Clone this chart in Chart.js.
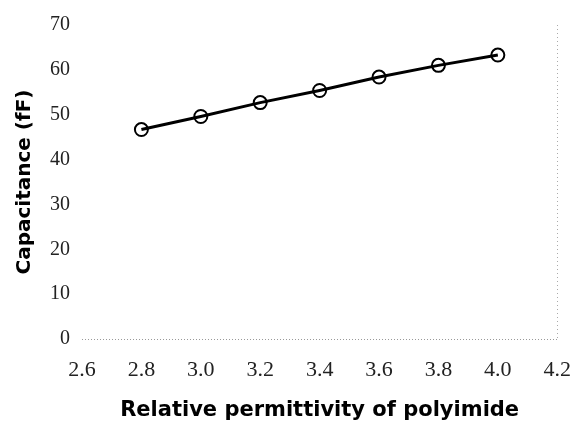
<!DOCTYPE html>
<html>
<head>
<meta charset="utf-8">
<script src="https://cdn.jsdelivr.net/npm/chart.js@4"></script>
<style>
  html, body { margin: 0; padding: 0; background: #fff; overflow: hidden; }
  canvas { display: block; }
</style>
</head>
<body>
<canvas id="capline" width="575" height="427"></canvas>
<script>
// Data
var permittivity = [2.8, 3.0, 3.2, 3.4, 3.6, 3.8, 4.0];
var capacitance = [46.7, 49.6, 52.7, 55.4, 58.4, 61.0, 63.3];
var xTicks = [2.6, 2.8, 3.0, 3.2, 3.4, 3.6, 3.8, 4.0, 4.2];
var yTicks = [0, 10, 20, 30, 40, 50, 60, 70];

var points = permittivity.map(function (x, i) {
    return { x: x, y: capacitance[i] };
});

var ctx = document.getElementById("capline").getContext('2d');

var capline = new Chart(ctx, {
    type: 'scatter',
    data: {
        datasets: [{
            label: 'Capacitance',
            data: points,
            showLine: true,
            borderColor: '#000',
            borderWidth: 3,
            pointRadius: 6.5,
            pointBorderWidth: 2,
            pointBorderColor: '#000',
            pointBackgroundColor: 'rgba(0,0,0,0)'
        }]
    },
    options: {
        responsive: false,
        animation: false,
        layout: { padding: { left: 13, right: 4, top: 25, bottom: 4 } },
        plugins: {
            legend: { display: false },
            tooltip: { enabled: false }
        },
        scales: {
            x: {
                type: 'linear',
                min: 2.6,
                max: 4.2,
                afterBuildTicks: function (s) { s.ticks = xTicks.map(function (v) { return { value: v }; }); },
                afterFit: function (s) { s.height = 84; },
                // only the last grid line is shown: the dotted right frame
                grid: {
                    drawTicks: true,
                    tickLength: 14,
                    tickColor: 'rgba(0,0,0,0)',
                    lineWidth: 1,
                    color: function (c) { return c.tick && c.tick.value === 4.2 ? '#aaa' : 'rgba(0,0,0,0)'; }
                },
                border: { display: false, dash: [1, 3] },
                ticks: {
                    padding: 4,
                    color: '#222',
                    font: { family: 'Liberation Serif', size: 22 },
                    callback: function (v) { return v.toFixed(1); }
                },
                title: {
                    display: true,
                    text: 'Relative permittivity of polyimide',
                    color: '#000',
                    padding: 0,
                    font: { family: 'DejaVu Sans', size: 21, weight: 'bold' }
                }
            },
            y: {
                min: 0,
                max: 70,
                afterBuildTicks: function (s) { s.ticks = yTicks.map(function (v) { return { value: v }; }); },
                afterFit: function (s) { s.width = 69; },
                // only the zero grid line is shown: the dotted baseline
                grid: {
                    drawTicks: false,
                    lineWidth: 1,
                    color: function (c) { return c.tick && c.tick.value === 0 ? '#999' : 'rgba(0,0,0,0)'; }
                },
                border: { display: false, dash: [1, 2] },
                ticks: {
                    padding: 12,
                    color: '#222',
                    font: { family: 'Liberation Serif', size: 20 }
                },
                title: {
                    display: true,
                    text: 'Capacitance (fF)',
                    color: '#000',
                    padding: 0,
                    font: { family: 'DejaVu Sans', size: 20, weight: 'bold' }
                }
            }
        }
    }
});
</script>
</body>
</html>
